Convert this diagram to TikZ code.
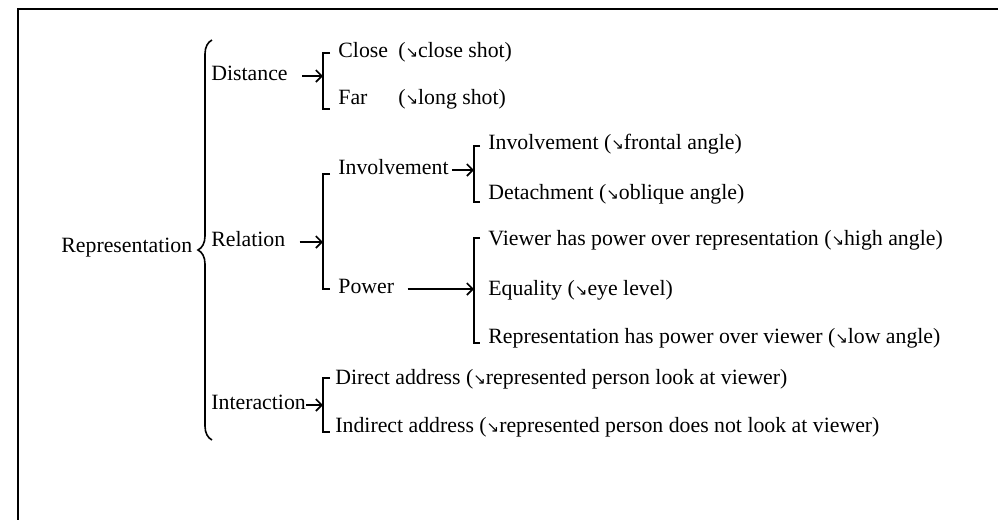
\documentclass[tikz,border=0pt]{standalone}
\usepackage{fontspec}
\setmainfont{Liberation Serif}
\newfontfamily\symfont{DejaVu Sans}
\usetikzlibrary{arrows.meta,decorations.pathreplacing}

\newcommand{\sedn}{{\symfont\fontsize{7.5}{8}\selectfont ↘}}

\tikzstyle{term} = [anchor=mid west,inner sep=0pt,font=\fontsize{10.9}{13}\selectfont]
\tikzstyle{bracket} = [line width=0.8pt]
\tikzstyle{link} = [line width=0.8pt,-{Straight Barb[length=3pt,width=6pt]}]

\begin{document}
\begin{tikzpicture}[x=0.5pt,y=-0.5pt]
	\useasboundingbox (0,0) rectangle (998,520);
	\draw[line width=1.2pt] (18,520) -- (18,9) -- (998,9);

	\node[term] (rep) at (61,248) {Representation};
	\node[term] (dist) at (211,76) {Distance};
	\node[term] (rel) at (211,242) {Relation};
	\node[term] (inter) at (211,405) {Interaction};

	\node[term] (close) at (338,53) {\makebox[2.75em][l]{Close}(\sedn close shot)};
	\node[term] (far) at (338,100) {\makebox[2.75em][l]{Far}(\sedn long shot)};
	\node[term] (invol) at (338,170) {Involvement};
	\node[term] (power) at (338,289) {Power};
	\node[term] (direct) at (335,380) {Direct address (\sedn represented person look at viewer)};
	\node[term] (indirect) at (335,428) {Indirect address (\sedn represented person does not look at viewer)};

	\node[term] (front) at (488,145) {Involvement (\sedn frontal angle)};
	\node[term] (detach) at (488,195) {Detachment (\sedn oblique angle)};
	\node[term] (viewer) at (488,241) {Viewer has power over representation (\sedn high angle)};
	\node[term] (equal) at (488,291) {Equality (\sedn eye level)};
	\node[term] (reprpow) at (488,339) {Representation has power over viewer (\sedn low angle)};

	\coordinate (dtop) at (330,53);
	\coordinate (dmid) at (323,76);
	\coordinate (dbot) at (330,109);
	\coordinate (rtop) at (330,174);
	\coordinate (rmid) at (323,242);
	\coordinate (rbot) at (330,289);
	\coordinate (itop) at (330,378);
	\coordinate (imid) at (323,405);
	\coordinate (ibot) at (330,432);
	\coordinate (vtop) at (480,146);
	\coordinate (vmid) at (474,170);
	\coordinate (vbot) at (480,202);
	\coordinate (ptop) at (480,238);
	\coordinate (pmid) at (474,289);
	\coordinate (pbot) at (480,343);

	\draw[bracket,decorate,decoration={brace,amplitude=7pt,aspect=0.475}]
		(212,440) -- (212,40);

	\draw[bracket] (dtop) -| (dmid) |- (dbot);
	\draw[bracket] (rtop) -| (rmid) |- (rbot);
	\draw[bracket] (itop) -| (imid) |- (ibot);
	\draw[bracket] (vtop) -| (vmid) |- (vbot);
	\draw[bracket] (ptop) -| (pmid) |- (pbot);

	\draw[link,shorten <=7pt] (dist.mid east) -- (dmid);
	\draw[link,shorten <=7pt] (rel.mid east) -- (rmid);
	\draw[link] (inter.mid east) -- (imid);
	\draw[link,shorten <=1.5pt] (invol.mid east) -- (vmid);
	\draw[link,shorten <=6.5pt] (power.mid east) -- (pmid);
\end{tikzpicture}
\end{document}
